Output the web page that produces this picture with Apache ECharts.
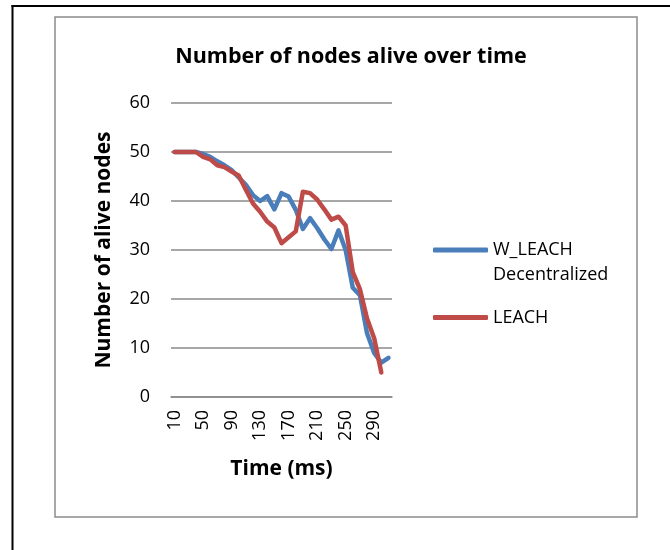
<!DOCTYPE html>
<html>
<head>
<meta charset="utf-8">
<title>Number of nodes alive over time</title>
<script src="https://cdn.jsdelivr.net/npm/echarts@6/dist/echarts.min.js"></script>
<style>
  html, body { margin: 0; padding: 0; background: #fff; }
  #chart { width: 670px; height: 550px; }
</style>
</head>
<body>
<div id="chart"></div>
<script>
// time steps (ms)
var times = [10, 20, 30, 40, 50, 60, 70, 80, 90, 100, 110, 120, 130, 140, 150, 160,
    170, 180, 190, 200, 210, 220, 230, 240, 250, 260, 270, 280, 290, 300, 310];
// alive nodes
var wLeach = [50, 50, 50, 50, 49.6, 49, 48.1, 47.3, 46.3, 44.8, 43.3, 41.2, 40, 41, 38.3,
    41.6, 40.9, 38.2, 34.3, 36.5, 34.5, 32.2, 30.2, 34, 30, 22.3, 20.8, 13, 9, 7, 8];
var leach = [50, 50, 50, 50, 49, 48.5, 47.3, 46.9, 46, 45.2, 42.3, 39.5, 37.8, 35.8, 34.6,
    31.4, 32.6, 33.8, 41.9, 41.6, 40.3, 38.3, 36.2, 36.8, 35, 25.5, 22, 16, 12, 5];
var yTicks = [0, 10, 20, 30, 40, 50, 60];

var myChart = echarts.init(document.getElementById('chart'));
var font = 'Open Sans';
var gridColor = '#8a8a8a';

var option = {
    backgroundColor: '#fff',
    animation: false,
    textStyle: { fontFamily: font, color: '#000' },
    title: {
        text: 'Number of nodes alive over time',
        left: 346,
        top: 41,
        textAlign: 'center',
        textStyle: { fontFamily: font, fontWeight: 'bold', fontSize: 21.5, color: '#000' }
    },
    legend: [
        {
            data: ['W_LEACH Decentralized'],
            orient: 'vertical',
            left: 433,
            top: 216,
            padding: 0,
            icon: 'roundRect',
            itemWidth: 55,
            itemHeight: 5,
            itemGap: 4,
            // blank first line keeps the icon level with "W_LEACH"
            formatter: function () { return '{a|}\n{a|W_LEACH}\n{a|Decentralized}'; },
            textStyle: {
                rich: { a: { fontFamily: font, fontSize: 18, color: '#000', lineHeight: 25 } }
            }
        },
        {
            data: ['LEACH'],
            orient: 'vertical',
            left: 433,
            top: 305,
            padding: 0,
            icon: 'roundRect',
            itemWidth: 55,
            itemHeight: 5,
            itemGap: 4,
            textStyle: { fontFamily: font, fontSize: 18, color: '#000', lineHeight: 25 }
        }
    ],
    grid: { left: 171, top: 103, width: 221, height: 294 },
    xAxis: {
        type: 'category',
        data: times,
        boundaryGap: true,
        name: 'Time (ms)',
        nameLocation: 'middle',
        nameGap: 62,
        nameTextStyle: { fontFamily: font, fontWeight: 'bold', fontSize: 21, color: '#000' },
        axisLine: { show: true, lineStyle: { color: gridColor, width: 1.5 } },
        axisTick: { show: false },
        axisLabel: { rotate: 90, interval: 3, margin: 13, fontSize: 18, color: '#000' }
    },
    yAxis: {
        type: 'value',
        min: yTicks[0],
        max: yTicks[yTicks.length - 1],
        interval: 10,
        name: 'Number of alive nodes',
        nameLocation: 'middle',
        nameGap: 56,
        nameTextStyle: { fontFamily: font, fontWeight: 'bold', fontSize: 21, color: '#000' },
        axisLine: { show: false },
        axisTick: { show: false },
        axisLabel: { margin: 21, fontSize: 18, color: '#000' },
        splitLine: { lineStyle: { color: gridColor, width: 1.5 } }
    },
    series: [
        {
            name: 'W_LEACH Decentralized',
            type: 'line',
            data: wLeach,
            symbol: 'none',
            color: '#4a7ebb',
            lineStyle: { width: 4.5, color: '#4a7ebb', cap: 'round', join: 'round' }
        },
        {
            name: 'LEACH',
            type: 'line',
            data: leach,
            symbol: 'none',
            color: '#be4b48',
            lineStyle: { width: 4.5, color: '#be4b48', cap: 'round', join: 'round' }
        }
    ],
    graphic: [
        {
            // chart area frame
            type: 'rect',
            shape: { x: 55, y: 17, width: 582, height: 500 },
            style: { fill: 'none', stroke: '#8c8c8c', lineWidth: 1.5 },
            silent: true
        },
        {
            // outer page border, left side
            type: 'line',
            shape: { x1: 12.5, y1: 5, x2: 12.5, y2: 550 },
            style: { stroke: '#000', lineWidth: 2 },
            silent: true
        },
        {
            // outer page border, top side
            type: 'line',
            shape: { x1: 11.5, y1: 6, x2: 670, y2: 6 },
            style: { stroke: '#000', lineWidth: 2 },
            silent: true
        }
    ]
};

myChart.setOption(option);
</script>
</body>
</html>
